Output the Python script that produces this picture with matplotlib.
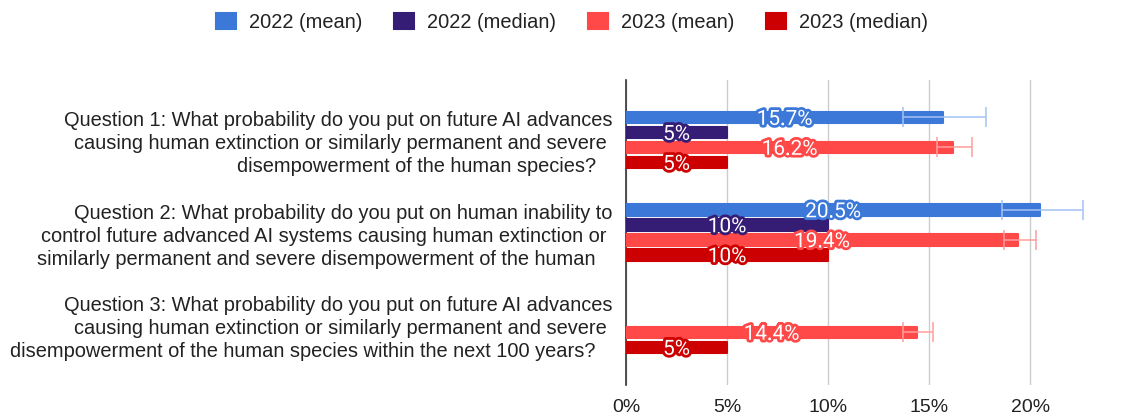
import numpy as np
import matplotlib.pyplot as plt
import matplotlib.patheffects as pe

# Data
questions = [
    "Question 1: What probability do you put on future AI advances\n"
    "causing human extinction or similarly permanent and severe \n"
    "disempowerment of the human species?   ",
    "Question 2: What probability do you put on human inability to\n"
    "control future advanced AI systems causing human extinction or \n"
    "similarly permanent and severe disempowerment of the human   ",
    "Question 3: What probability do you put on future AI advances\n"
    "causing human extinction or similarly permanent and severe \n"
    "disempowerment of the human species within the next 100 years?   ",
]
series_names = ["2022 (mean)", "2022 (median)", "2023 (mean)", "2023 (median)"]
mean_2022 = [15.7, 20.5, np.nan]
median_2022 = [5, 10, np.nan]
mean_2023 = [16.2, 19.4, 14.4]
median_2023 = [5, 10, 5]
err_2022_low = [13.7, 18.6, np.nan]
err_2022_high = [17.8, 22.6, np.nan]
err_2023_low = [15.4, 18.7, 13.7]
err_2023_high = [17.1, 20.3, 15.2]

colors = ["#3c78d8", "#351c75", "#ff4848", "#cc0000"]
err_colors = ["#a4c2f4", None, "#ff9e9e", None]

series = [mean_2022, median_2022, mean_2023, median_2023]
errs = [(err_2022_low, err_2022_high), None, (err_2023_low, err_2023_high), None]

fig = plt.figure(figsize=(11.28, 4.18), dpi=100)
ax = fig.add_axes([0.555, 0.079, 0.412, 0.730])

y = np.arange(len(questions))
step = 0.162
offsets = (np.arange(4) - 1.5) * step
bar_h = 0.125

for i, vals in enumerate(series):
    vals = np.array(vals, dtype=float)
    ypos = y + offsets[i]
    ax.barh(ypos, vals, height=bar_h, color=colors[i], edgecolor=colors[i],
            linewidth=1.5, joinstyle="round", label=series_names[i], zorder=3)
    if errs[i] is not None:
        lo, hi = np.array(errs[i][0]), np.array(errs[i][1])
        ax.errorbar((lo + hi) / 2, ypos, xerr=(hi - lo) / 2, fmt="none",
                    ecolor=err_colors[i], elinewidth=1.1, capsize=7,
                    capthick=1.1, zorder=4)
    for yy, v in zip(ypos, vals):
        if np.isnan(v):
            continue
        ax.text(v / 2, yy + 0.02, f"{v:g}%", ha="center", va="center",
                color="white", fontsize=15, family="Roboto", zorder=5,
                path_effects=[pe.withStroke(linewidth=4, foreground=colors[i])])

ax.set_xlim(0, 23)
ax.set_ylim(2.65, -0.65)
ax.set_xticks([0, 5, 10, 15, 20])
ax.set_xticklabels(["0%", "5%", "10%", "15%", "20%"], family="Liberation Sans",
                   fontsize=14, color="#222222")
ax.set_yticks(y)
ax.set_yticklabels(questions, family="Liberation Sans", fontsize=14.4,
                   color="#222222", linespacing=1.26)
ax.tick_params(axis="both", length=0)
ax.tick_params(axis="y", pad=10)
ax.tick_params(axis="x", pad=10)
ax.grid(axis="x", color="#cccccc", linewidth=1, zorder=0)
for side in ["top", "right", "bottom"]:
    ax.spines[side].set_visible(False)
ax.spines["left"].set_color("#333333")
ax.spines["left"].set_linewidth(1.2)

handles, labels = ax.get_legend_handles_labels()
fig.legend(handles, labels, loc="center", bbox_to_anchor=(0.507, 0.947),
           ncol=4, frameon=False, prop={"family": "Liberation Sans", "size": 14.4},
           handlelength=1.0, handleheight=0.9, handletextpad=0.65,
           columnspacing=1.6, labelcolor="#222222")

fig.savefig("out.png", dpi=100)
